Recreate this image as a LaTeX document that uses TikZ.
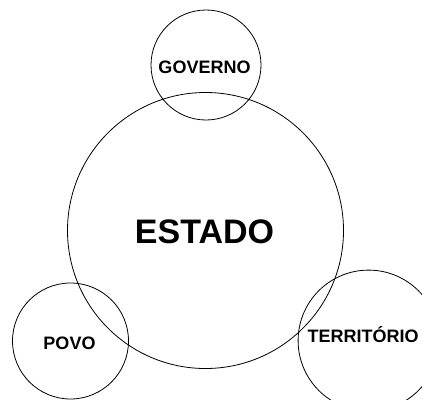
\documentclass[tikz,border=0pt]{standalone}
\usepackage{fontspec}
\setmainfont{Liberation Sans}
\usepackage{tikz}

\tikzset{
  ring/.style={circle, draw, line width=0.8pt, inner sep=0pt},
  word/.style={font=\bfseries\fontsize{18}{20}\selectfont, inner sep=0pt},
}

\begin{document}
\begin{tikzpicture}[x=1pt, y=-1pt]
        \useasboundingbox (0, 0) rectangle (422, 399);

        % Draw circles
        \node[ring, minimum size=276pt] (estado) at (205.5, 230.5) {};
        \node[ring, minimum size=110pt] (governo) at (206, 65) {};
        \node[ring, minimum size=116pt] (povo) at (70.5, 341) {};
        \node[ring, minimum size=141pt] (territorio) at (368.6, 340.6) {};

        % Draw labels
        \node[word, font=\bfseries\fontsize{34}{38}\selectfont] (estadotxt) at (204.5, 231.5) {ESTADO};
        \node[word] (governotxt) at (204.5, 67) {GOVERNO};
        \node[word] (povotxt) at (69.5, 343) {POVO};
        \node[word] (territoriotxt) at (363, 335) {TERRITÓRIO};
      \end{tikzpicture}
\end{document}
